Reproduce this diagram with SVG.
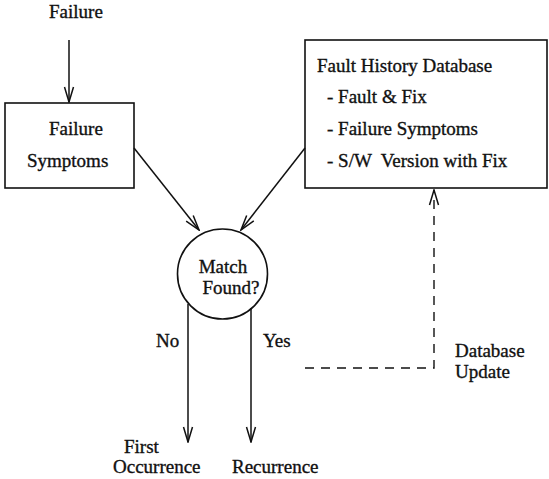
<svg xmlns="http://www.w3.org/2000/svg" width="549" height="479" viewBox="0 0 549 479">
  <style>
    text { font-family: "Liberation Serif", "Times New Roman", serif; font-size: 19px; fill: #111; stroke: #111; stroke-width: 0.35; white-space: pre; }
    .box { fill: #fff; stroke: #111; stroke-width: 1.6; }
    .conn { fill: none; stroke: #111; stroke-width: 1.5; }
    .dash { fill: none; stroke: #111; stroke-width: 1.4; stroke-dasharray: 9 7; }
    .mid { text-anchor: middle; }
  </style>
  <defs>
    <marker id="arr" markerUnits="userSpaceOnUse" viewBox="-1 -6 17 12" refX="15" refY="0" markerWidth="17" markerHeight="12" orient="auto">
      <path d="M0,-4.5 L15,0 L0,4.5" fill="none" stroke="#111" stroke-width="1.5"/>
    </marker>
  </defs>
  <rect width="549" height="479" fill="#fff"/>

  <g id="failure">
    <text x="49" y="18">Failure</text>
  </g>

  <g id="failure-symptoms">
    <rect class="box" x="5" y="103" width="129" height="85"/>
    <text x="49" y="135">Failure</text>
    <text x="27" y="167">Symptoms</text>
  </g>

  <g id="fault-db">
    <rect class="box" x="305" y="40" width="242" height="148"/>
    <text x="317" y="72">Fault History Database</text>
    <text x="327" y="103">- Fault &amp; Fix</text>
    <text x="327" y="135">- Failure Symptoms</text>
    <text x="327" y="167">- S/W  Version with Fix</text>
  </g>

  <g id="match">
    <circle cx="222.5" cy="274" r="45" fill="#fff" stroke="#111" stroke-width="1.6"/>
    <text class="mid" x="223" y="273">Match</text>
    <text class="mid" x="231" y="294">Found?</text>
  </g>

  <g id="first-occurrence">
    <text x="124" y="453">First</text>
    <text x="113" y="473">Occurrence</text>
  </g>

  <g id="recurrence">
    <text x="232" y="473">Recurrence</text>
  </g>

  <g id="connectors">
    <line class="conn" x1="69" y1="40" x2="69" y2="102" marker-end="url(#arr)"/>
    <line class="conn" x1="134" y1="148" x2="199" y2="230" marker-end="url(#arr)"/>
    <line class="conn" x1="305" y1="148" x2="241" y2="230" marker-end="url(#arr)"/>
    <line class="conn" x1="188" y1="304" x2="188" y2="442" marker-end="url(#arr)"/>
    <line class="conn" x1="251" y1="308" x2="251" y2="442" marker-end="url(#arr)"/>
    <polyline class="dash" points="305,368 434,368 434,190" marker-end="url(#arr)"/>
    <text x="156" y="347">No</text>
    <text x="263" y="347">Yes</text>
    <text x="455" y="357">Database</text>
    <text x="455" y="378">Update</text>
  </g>
</svg>
